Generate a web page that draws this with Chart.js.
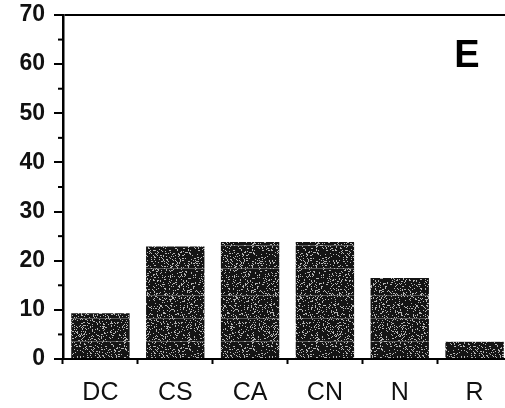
<!DOCTYPE html>
<html>
<head>
<meta charset="utf-8">
<script src="https://cdn.jsdelivr.net/npm/chart.js@4/dist/chart.umd.min.js"></script>
<style>
  html, body { margin: 0; padding: 0; background: #fff; overflow: hidden; }
  #wrap { width: 505px; height: 408px; overflow: hidden; }
  #chart { display: block; }
</style>
</head>
<body>
<div id="wrap"><canvas id="chart" width="512" height="408"></canvas></div>
<script>
'use strict';

var categories = ['DC', 'CS', 'CA', 'CN', 'N', 'R'];
var values = [9.3, 22.9, 23.8, 23.8, 16.5, 3.5];
var yTicks = [0, 10, 20, 30, 40, 50, 60, 70];
var panelLabel = 'E';

var ctx = document.getElementById('chart').getContext('2d');

// speckled dark fill, like the photocopied bars
function makeTexture() {
  var c = document.createElement('canvas');
  c.width = 64;
  c.height = 96;
  var g = c.getContext('2d');
  g.fillStyle = '#141414';
  g.fillRect(0, 0, c.width, c.height);
  for (var y = 0; y < c.height; y++) {
    for (var x = 0; x < c.width; x++) {
      var h = Math.sin(x * 12.9898 + y * 78.233) * 43758.5453;
      h = h - Math.floor(h);
      if (h > 0.84) {
        var v = 80 + Math.floor(h * 110);
        g.fillStyle = 'rgb(' + v + ',' + v + ',' + v + ')';
        g.fillRect(x, y, 1, 1);
      }
    }
    if (y % 23 === 7) {
      g.fillStyle = 'rgba(190,190,190,0.4)';
      g.fillRect(0, y, c.width, 1);
    }
  }
  return ctx.createPattern(c, 'repeat');
}

var extras = {
  id: 'extras',
  afterDraw: function (chart) {
    var c = chart.ctx;
    var y = chart.scales.y;
    var left = chart.chartArea.left;
    c.save();
    // minor ticks between the labelled ones
    c.strokeStyle = '#000';
    c.lineWidth = 2;
    for (var i = 0; i < yTicks.length - 1; i++) {
      var py = y.getPixelForValue((yTicks[i] + yTicks[i + 1]) / 2);
      c.beginPath();
      c.moveTo(left - 5, py);
      c.lineTo(left, py);
      c.stroke();
    }
    // panel letter
    c.fillStyle = '#000';
    c.font = 'bold 38px "Liberation Sans", Arial, sans-serif';
    c.textAlign = 'center';
    c.textBaseline = 'middle';
    c.fillText(panelLabel, 467, 57);
    c.restore();
  }
};

new Chart(ctx, {
  type: 'bar',
  data: {
    labels: categories,
    datasets: [{
      data: values,
      backgroundColor: makeTexture(),
      borderWidth: 0,
      categoryPercentage: 1,
      barPercentage: 0.78
    }]
  },
  options: {
    responsive: false,
    animation: false,
    layout: { padding: { top: 0, right: 0, left: 0, bottom: 0 } },
    plugins: {
      legend: { display: false },
      tooltip: { enabled: false }
    },
    scales: {
      x: {
        afterFit: function (s) { s.height = 49; },
        grid: {
          offset: true,
          drawOnChartArea: false,
          tickLength: 5,
          tickColor: '#000',
          tickWidth: 2
        },
        border: { color: '#000', width: 2 },
        ticks: {
          color: '#111',
          padding: 14,
          font: { family: '"Liberation Sans", Arial, sans-serif', size: 25 }
        }
      },
      y: {
        min: 0,
        max: 70,
        afterFit: function (s) { s.width = 63; s.paddingTop = 15; },
        afterBuildTicks: function (s) {
          s.ticks = yTicks.map(function (v) { return { value: v }; });
        },
        grid: {
          color: function (c) { return c.tick && c.tick.value === 70 ? '#000' : 'rgba(0,0,0,0)'; },
          lineWidth: 2,
          tickLength: 9,
          tickColor: '#000',
          tickWidth: 2
        },
        border: { color: '#000', width: 2.5 },
        ticks: {
          color: '#111',
          padding: 9,
          font: { family: '"Liberation Sans", Arial, sans-serif', size: 23, weight: 'bold' }
        }
      }
    }
  },
  plugins: [extras]
});
</script>
</body>
</html>
